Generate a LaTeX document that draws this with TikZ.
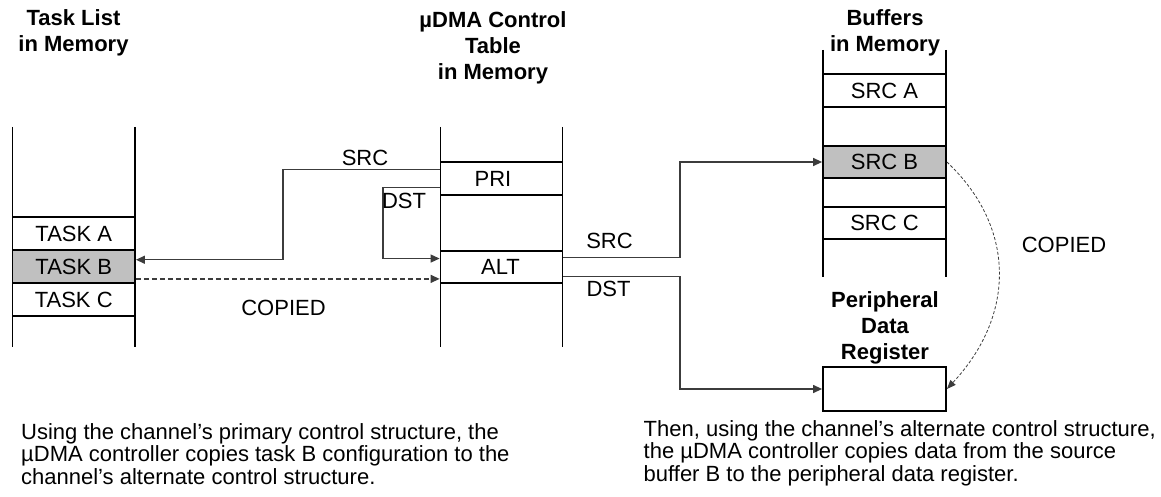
\documentclass[tikz,border=0pt]{standalone}
\usepackage{fontspec}
\setmainfont{Liberation Sans}
\usetikzlibrary{arrows.meta,calc}
\definecolor{conncol}{RGB}{60,60,60}
\definecolor{hlcol}{RGB}{192,192,192}
\newcommand\dfont{\fontsize{22}{26.3}\selectfont}
\newcommand\nfont{\fontsize{22}{22.8}\selectfont}
\tikzset{
  memcell/.style={draw=black,line width=1.8pt,minimum width=122.5pt,minimum height=33pt,inner sep=0pt,font=\dfont},
  hlcell/.style={memcell,fill=hlcol},
  memside/.style={draw=black,line width=1.8pt},
  title/.style={font=\dfont\bfseries,align=center,anchor=north,inner sep=0pt},
  lbl/.style={font=\dfont,anchor=base,inner sep=0pt},
  note/.style={font=\nfont,align=left,anchor=north west,inner sep=0pt},
  conn/.style={draw=conncol,line width=1.3pt},
  connarrow/.style={conn,-{Triangle[length=9pt,width=8pt]}},
  copyarrow/.style={connarrow,dash pattern=on 5pt off 3pt},
  curvearrow/.style={draw=conncol,line width=0.8pt,dash pattern=on 3pt off 2pt,-{Triangle[length=9pt,width=7pt]}}
}
\begin{document}
\begin{tikzpicture}[x=1pt,y=-1pt]
\useasboundingbox (0,0) rectangle (1161,497);

% ---- Task list column
\draw[memside] (12.5,127) -- (12.5,347);
\draw[memside] (135,127) -- (135,347);
\node[memcell] (taska) at (73.75,233.6) {TASK A};
\node[hlcell]  (taskb) at (73.75,266.7) {TASK B};
\node[memcell] (taskc) at (73.75,299.7) {TASK C};
\node[title] (ttask) at (73.5,9.2) {Task List\\in Memory};

% ---- Control table column
\draw[memside] (440.5,127) -- (440.5,347);
\draw[memside] (562.5,127) -- (562.5,347);
\node[memcell,minimum width=122pt] (pri) at (501.5,178.5) {PRI\kern17pt};
\node[memcell,minimum width=122pt,minimum height=32pt] (alt) at (501.5,267) {ALT\kern2pt};
\node[title] (tctrl) at (493,11.2) {µDMA Control\\Table\\in Memory};

% ---- Buffers column
\draw[memside] (823,50) -- (823,277);
\draw[memside] (946,50) -- (946,277);
\node[memcell,minimum width=123pt] (srca) at (884.5,90.5) {SRC A};
\node[hlcell,minimum width=123pt,minimum height=32pt] (srcb) at (884.5,162) {SRC B};
\node[memcell,minimum width=123pt,minimum height=32pt] (srcc) at (884.5,223) {SRC C};
\node[title] (tbuf) at (885,9.2) {Buffers\\in Memory};

% ---- Peripheral register
\node[memcell,minimum width=123pt,minimum height=44pt] (reg) at (884.5,389) {};
\node[title] (treg) at (885,291.2) {Peripheral\\Data\\Register};

% ---- helper coordinates
\coordinate (k1) at (283,0);
\coordinate (k2) at (383,0);
\coordinate (k3) at (680,0);
\coordinate (srcup) at ($(pri.north west)!0.24!(pri.south west)$);
\coordinate (dstup) at ($(pri.north west)!0.76!(pri.south west)$);
\coordinate (tbin)  at ($(taskb.north east)!0.30!(taskb.south east)$);
\coordinate (tbout) at ($(taskb.north east)!0.85!(taskb.south east)$);
\coordinate (altin) at ($(alt.north west)!0.25!(alt.south west)$);
\coordinate (altsrc) at ($(alt.north east)!0.22!(alt.south east)$);
\coordinate (altdst) at ($(alt.north east)!0.78!(alt.south east)$);

% ---- connectors
\draw[connarrow] (srcup) -| (k1 |- tbin) -- (tbin);
\draw[connarrow] (dstup) -| (k2 |- altin) -- (altin);
\draw[copyarrow] (tbout) -- (tbout -| alt.west);
\draw[connarrow] (altsrc) -| (k3 |- srcb.west) -- (srcb.west);
\draw[connarrow] (altdst) -| (k3 |- reg.west) -- (reg.west);
\draw[curvearrow] (srcb.east) .. controls +(69,65) and +(69,-74) .. (reg.east);

% ---- labels
\node[lbl] (lsrc1) at (365,166) {SRC};
\node[lbl] (ldst1) at (404,208) {DST};
\node[lbl] (lcop1) at (283.5,315) {COPIED};
\node[lbl] (lsrc2) at (609.5,248) {SRC};
\node[lbl] (ldst2) at (608.5,296) {DST};
\node[lbl] (lcop2) at (1064,252) {COPIED};

% ---- notes
\node[note] (note1) at (21,423) {Using the channel’s primary control structure, the\\µDMA controller copies task B configuration to the\\channel’s alternate control structure.};
\node[note] (note2) at (643.5,420) {Then, using the channel’s alternate control structure,\\the µDMA controller copies data from the source\\buffer B to the peripheral data register.};
\end{tikzpicture}
\end{document}
